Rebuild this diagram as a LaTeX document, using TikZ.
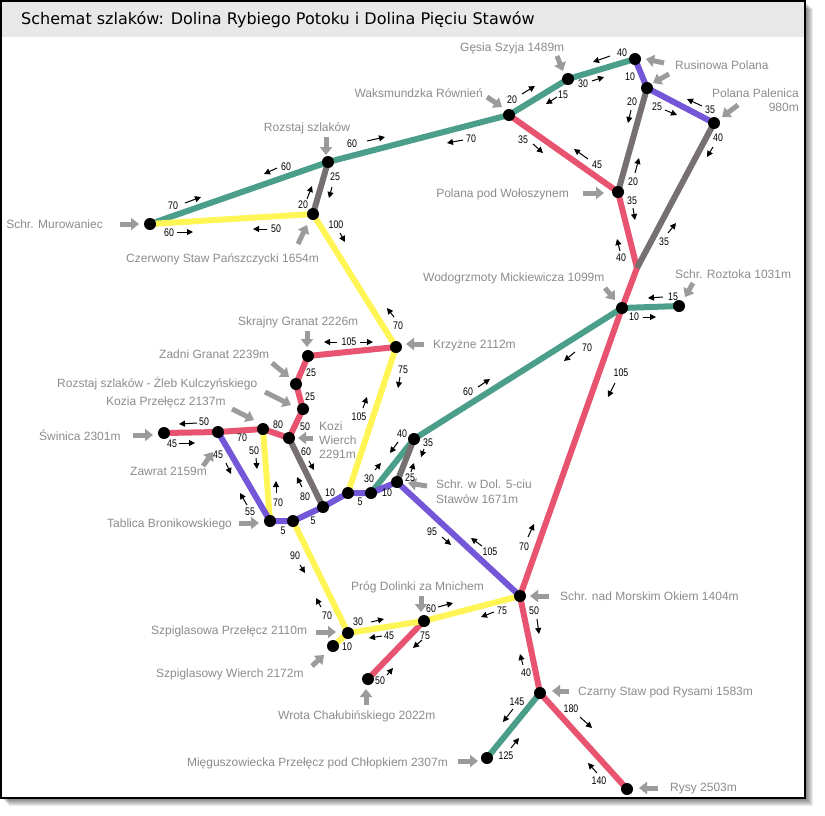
\documentclass[tikz,border=0pt]{standalone}
\usepackage{fontspec}
\setmainfont{Liberation Sans}
\newfontfamily\titlefont{DejaVu Sans}
\newfontfamily\numfont[FakeStretch=0.8]{Liberation Sans}
\usetikzlibrary{arrows.meta}
\pgfdeclarelayer{back}
\pgfdeclarelayer{bg}
\pgfsetlayers{back,bg,main}
\definecolor{cgreen}{RGB}{74,158,138}
\definecolor{cred}{RGB}{232,84,112}
\definecolor{cpurple}{RGB}{116,86,216}
\definecolor{cyellow}{RGB}{255,245,85}
\definecolor{cgray}{RGB}{118,112,112}
\definecolor{lblgray}{RGB}{140,140,140}
\definecolor{arrgray}{RGB}{155,155,155}
\definecolor{titlebg}{RGB}{232,232,232}
\begin{document}
\begin{tikzpicture}[x=1pt,y=-1pt,
  trail/.style={line width=6pt,line join=round},
  dot/.style={circle,fill=black,minimum size=12pt,inner sep=0pt},
  lbl/.style={text=lblgray,font=\fontsize{12}{14}\selectfont,inner sep=0pt},
  lblw/.style={lbl,anchor=base west,yshift=-4.3pt},
  lble/.style={lbl,anchor=base east,yshift=-4.3pt},
  lblc/.style={lbl,anchor=base,yshift=-4.3pt},
  num/.style={font=\numfont\fontsize{11}{12}\selectfont,inner sep=0pt},
  ptr/.style={arrgray,line width=5pt,-{Triangle[length=8pt,width=12pt]}},
  sarr/.style={black,line width=1pt,-{Triangle[length=6pt,width=6pt]}}]
\useasboundingbox (0,0) rectangle (825,815);
\begin{pgfonlayer}{back}
\fill[white] (0,0) rectangle (825,815);
\foreach \i in {1,...,8} \fill[black,opacity=0.08] (1+\i,1+\i) rectangle (805+\i,798+\i);
\fill[white] (1,1) rectangle (805,798);
\fill[titlebg] (1,1) rectangle (805,37);
\draw[line width=1.5pt] (1,1) rectangle (805,798);
\end{pgfonlayer}
\node[anchor=base west,inner sep=0pt,font=\titlefont\fontsize{16}{19}\selectfont] (title) at (21,24) {Schemat szlaków: Dolina Rybiego Potoku i Dolina Pięciu Stawów};

% trail points
\node[dot] (M) at (150,224) {};
\node[dot] (RS) at (328,162) {};
\node[dot] (CS) at (313,214) {};
\node[dot] (WR) at (509,115) {};
\node[dot] (GS) at (568,79) {};
\node[dot] (RT) at (635,59) {};
\node[dot] (RB) at (647,88) {};
\node[dot] (PP) at (714,123) {};
\node[dot] (PW) at (618,192) {};
\coordinate (J) at (637,268);
\node[dot] (W) at (622,308) {};
\node[dot] (R) at (679,306) {};
\node[dot] (K) at (396,347) {};
\node[dot] (SG) at (308,356) {};
\node[dot] (ZG) at (296,384) {};
\node[dot] (Z) at (303,409) {};
\node[dot] (KW) at (289,438) {};
\node[dot] (KP) at (263,429) {};
\node[dot] (Za) at (218,432) {};
\node[dot] (S) at (164,433) {};
\node[dot] (TB) at (270,521) {};
\node[dot] (TBb) at (293,521) {};
\node[dot] (P3) at (323,507) {};
\node[dot] (P4) at (348,493) {};
\node[dot] (P5) at (371,493) {};
\node[dot] (D5) at (397,482) {};
\node[dot] (G40) at (414,439) {};
\node[dot] (MO) at (520,596) {};
\node[dot] (PD) at (424,621) {};
\node[dot] (SP) at (348,633) {};
\node[dot] (SW) at (333,646) {};
\node[dot] (WC) at (368,679) {};
\node[dot] (CzS) at (540,693) {};
\node[dot] (MP) at (487,758) {};
\node[dot] (Ry) at (627,789) {};

\begin{pgfonlayer}{bg}
\draw[trail,cred] (WR.center) -- (PW.center) -- (J) -- (W.center) -- (MO.center) -- (CzS.center) -- (Ry.center);
\draw[trail,cred] (S.center) -- (Za.center) -- (KP.center) -- (KW.center) -- (Z.center) -- (ZG.center) -- (SG.center) -- (K.center);
\draw[trail,cred] (PD.center) -- (WC.center);
\draw[trail,cgreen] (M.center) -- (RS.center) -- (WR.center) -- (GS.center) -- (RT.center);
\draw[trail,cgreen] (W.center) -- (R.center);
\draw[trail,cgreen] (W.center) -- (G40.center) -- (P5.center);
\draw[trail,cgreen] (CzS.center) -- (MP.center);
\draw[trail,cgray] (RS.center) -- (CS.center);
\draw[trail,cgray] (RB.center) -- (PW.center);
\draw[trail,cgray] (PP.center) -- (J);
\draw[trail,cgray] (G40.center) -- (D5.center);
\draw[trail,cgray] (KW.center) -- (P3.center);
\draw[trail,cyellow] (M.center) -- (CS.center) -- (K.center) -- (P4.center);
\draw[trail,cyellow] (KP.center) -- (TB.center);
\draw[trail,cyellow] (TBb.center) -- (SP.center) -- (PD.center) -- (MO.center);
\draw[trail,cyellow] (SP.center) -- (SW.center);
\draw[trail,cpurple] (RT.center) -- (RB.center) -- (PP.center);
\draw[trail,cpurple] (Za.center) -- (TB.center) -- (TBb.center) -- (P3.center) -- (P4.center) -- (P5.center) -- (D5.center) -- (MO.center);
\end{pgfonlayer}

% place labels
\node[lble] (lM) at (103,224) {Schr. Murowaniec};
\node[lblc] (lRS) at (307,127) {Rozstaj szlaków};
\node[lblw] (lCS) at (126,258) {Czerwony Staw Pańszczycki 1654m};
\node[lble] (lWR) at (483,93) {Waksmundzka Równień};
\node[lblw] (lGS) at (460,47) {Gęsia Szyja 1489m};
\node[lblw] (lRP) at (675,65) {Rusinowa Polana};
\node[lbl,anchor=east,align=right] (lPP) at (799,100) {Polana Palenica\\980m};
\node[lble] (lPW) at (569,193) {Polana pod Wołoszynem};
\node[lblw] (lW) at (423,277) {Wodogrzmoty Mickiewicza 1099m};
\node[lblw] (lR) at (675,274) {Schr. Roztoka 1031m};
\node[lblw] (lSG) at (238,321) {Skrajny Granat 2226m};
\node[lblw] (lK) at (433,344) {Krzyżne 2112m};
\node[lblw] (lZG) at (159,354) {Zadni Granat 2239m};
\node[lblw] (lZ) at (57,383) {Rozstaj szlaków - Żleb Kulczyńskiego};
\node[lblw] (lKP) at (106,401) {Kozia Przełęcz 2137m};
\node[lbl,anchor=west,align=left] (lKW) at (319,440) {Kozi\\Wierch\\2291m};
\node[lblw] (lS) at (39,436) {Świnica 2301m};
\node[lblw] (lZa) at (130,471) {Zawrat 2159m};
\node[lblw] (lTB) at (107,523) {Tablica Bronikowskiego};
\node[lbl,anchor=west,align=left,font=\fontsize{12}{15}\selectfont] (lD5) at (436,492) {Schr. w Dol. 5-ciu\\Stawów 1671m};
\node[lblw] (lPD) at (351,586) {Próg Dolinki za Mnichem};
\node[lblw] (lMO) at (560,596) {Schr. nad Morskim Okiem 1404m};
\node[lblw] (lSP) at (151,630) {Szpiglasowa Przełęcz 2110m};
\node[lblw] (lSW) at (156,673) {Szpiglasowy Wierch 2172m};
\node[lblw] (lWC) at (278,715) {Wrota Chałubińskiego 2022m};
\node[lblw] (lCzS) at (578,691) {Czarny Staw pod Rysami 1583m};
\node[lble] (lMP) at (448,762) {Mięguszowiecka Przełęcz pod Chłopkiem 2307m};
\node[lblw] (lRy) at (670,787) {Rysy 2503m};

% pointer arrows
\foreach \a/\b/\c/\d in {120/224/139/224, 326/137/326/155, 298/244/307/225, 487/97/502/107,
  557/56/563/71, 664/63/646/59, 669/74/653/83, 738/105/722/117, 583/193/604/193,
  605/288/615/300, 693/283/685/297, 307/331/307/347, 424/344/406/344, 272/363/289/377,
  265/392/291/405, 232/409/254/420, 313/438/298/438, 133/435/153/435, 203/466/213/452,
  239/523/259/523, 427/486/408/483, 421/596/421/612, 549/596/530/596, 316/632/336/632,
  312/666/324/655, 366/705/366/689, 569/691/552/691, 458/761/478/761, 658/788/639/788}
  \draw[ptr] (\a,\b) -- (\c,\d);

% walking times
\foreach \t/\x/\y in {60/352/144, 60/286/167, 70/173/206, 25/335/177, 20/303/205, 60/169/233,
  50/276/229, 100/336/225, 40/622/53, 30/583/84, 15/563/95, 20/512/100, 10/630/77,
  20/632/102, 25/657/107, 35/710/110, 40/718/138, 70/471/139, 35/523/140, 45/597/165,
  20/633/182, 35/632/201, 40/621/258, 35/664/242, 15/673/297, 10/634/317, 70/587/348,
  105/621/373, 70/398/326, 105/349/342, 75/403/370, 25/311/373, 25/310/397, 80/278/425,
  50/305/427, 105/359/417, 60/468/392, 40/402/434, 35/428/443, 25/410/478, 30/369/479,
  10/330/493, 5/360/502, 10/387/493, 60/306/452, 80/305/497, 5/313/521, 5/283/531,
  95/432/532, 105/490/552, 70/524/547, 50/204/422, 45/172/444, 70/242/438, 45/218/455,
  50/254/451, 70/278/503, 55/250/512, 90/295/556, 70/327/616, 30/358/622, 45/389/636,
  10/347/647, 60/431/609, 75/425/636, 50/380/681, 75/502/611, 50/534/611, 40/526/673,
  145/517/702, 180/571/709, 125/506/756, 140/599/781}
  \node[num] (n\x-\y) at (\x,\y) {\t};

\foreach \a/\b/\c/\d in {367/141/385/137, 277/168/264/174, 185/203/201/197, 332/187/329/198,
  307/199/312/186, 177/232/193/232, 267/229/253/229, 340/233/345/242, 610/56/593/62,
  592/81/604/77, 557/97/546/104, 522/94/535/86, 631/110/628/123, 665/110/677/115,
  702/106/687/99, 713/147/707/157, 463/140/447/143, 533/144/543/153, 588/159/574/149,
  635/173/639/158, 633/208/635/220, 620/251/617/239, 668/233/676/223, 663/297/648/298,
  643/317/656/317, 575/352/564/361, 615/383/608/397, 394/317/387/308, 337/342/324/342,
  360/342/373/342, 400/377/398/388, 363/408/367/397, 478/387/490/379, 398/442/390/453,
  424/449/421/457, 411/472/414/463, 375/470/381/463, 309/461/314/470, 302/487/297/477,
  442/537/451/545, 482/546/471/538, 528/537/534/524, 197/423/179/424, 179/443/195/443,
  226/463/231/474, 256/458/257/469, 276/493/276/481, 247/505/240/493, 300/565/305/573,
  321/607/316/598, 371/622/384/619, 382/636/369/638, 438/607/453/603, 422/640/413/648,
  387/675/393/668, 494/612/481/617, 537/619/539/634, 523/665/520/654, 513/709/503/722,
  580/717/592/728, 511/748/519/738, 597/773/588/763}
  \draw[sarr] (\a,\b) -- (\c,\d);
\end{tikzpicture}
\end{document}
